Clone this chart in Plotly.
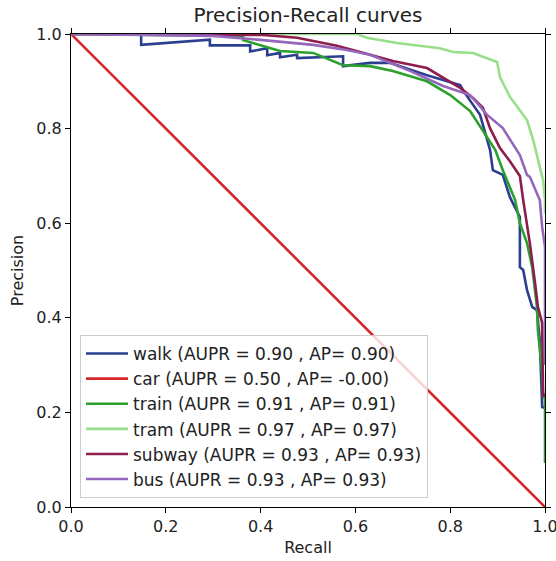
import plotly.graph_objects as go

names = ["walk", "car", "train", "tram", "subway", "bus"]
aupr = ["0.90", "0.50", "0.91", "0.97", "0.93", "0.93"]
ap = ["0.90", "-0.00", "0.91", "0.97", "0.93", "0.93"]
colors = ["#2b3f91", "#d62728", "#2ca02c", "#98df8a", "#8c1d4d", "#9467bd"]

walk_recall = [0.0, 0.148, 0.148, 0.293, 0.293, 0.378, 0.378, 0.414, 0.414, 0.441, 0.441, 0.477, 0.477,
               0.574, 0.574, 0.631, 0.673, 0.751, 0.821, 0.831, 0.863, 0.878, 0.884, 0.890, 0.911, 0.926,
               0.947, 0.947, 0.954, 0.962, 0.964, 0.973, 0.983, 0.989, 0.994, 1.0]
walk_precision = [1.0, 1.0, 0.977, 0.988, 0.976, 0.976, 0.963, 0.970, 0.955, 0.960, 0.951, 0.956, 0.949,
                  0.953, 0.932, 0.939, 0.939, 0.913, 0.892, 0.875, 0.829, 0.780, 0.755, 0.712, 0.702, 0.655,
                  0.613, 0.507, 0.501, 0.459, 0.452, 0.423, 0.416, 0.353, 0.211, 0.21]

car_recall = [0.0, 1.0]
car_precision = [1.0, 0.0]

train_recall = [0.0, 0.245, 0.363, 0.363, 0.441, 0.511, 0.574, 0.631, 0.679, 0.751, 0.800, 0.842, 0.878,
                0.895, 0.911, 0.920, 0.937, 0.947, 0.962, 0.973, 0.983, 0.985, 0.994, 0.996, 1.0, 1.0]
train_precision = [1.0, 0.998, 0.996, 0.987, 0.964, 0.960, 0.934, 0.932, 0.922, 0.900, 0.871, 0.837, 0.780,
                   0.755, 0.712, 0.691, 0.649, 0.600, 0.558, 0.507, 0.423, 0.374, 0.283, 0.233, 0.23, 0.093]

tram_recall = [0.0, 0.603, 0.624, 0.688, 0.778, 0.806, 0.848, 0.878, 0.899, 0.905, 0.926, 0.947, 0.962,
               0.975, 0.985, 0.996, 1.0, 1.0]
tram_precision = [1.0, 1.0, 0.992, 0.981, 0.970, 0.962, 0.960, 0.949, 0.941, 0.909, 0.867, 0.839, 0.818,
                  0.776, 0.734, 0.691, 0.65, 0.62]

subway_recall = [0.0, 0.405, 0.477, 0.561, 0.610, 0.679, 0.751, 0.821, 0.848, 0.869, 0.884, 0.905, 0.926,
                 0.947, 0.954, 0.968, 0.979, 0.985, 0.994, 0.996, 1.0]
subway_precision = [1.0, 0.998, 0.992, 0.975, 0.962, 0.943, 0.928, 0.886, 0.865, 0.844, 0.801, 0.759, 0.731,
                    0.700, 0.649, 0.558, 0.474, 0.423, 0.389, 0.233, 0.24]

bus_recall = [0.0, 0.300, 0.405, 0.511, 0.582, 0.631, 0.715, 0.785, 0.842, 0.878, 0.911, 0.947, 0.962,
              0.968, 0.989, 0.994, 1.0, 1.0]
bus_precision = [1.0, 0.996, 0.987, 0.977, 0.966, 0.956, 0.922, 0.890, 0.871, 0.829, 0.801, 0.744, 0.702,
                 0.698, 0.649, 0.592, 0.55, 0.30]

recalls = [walk_recall, car_recall, train_recall, tram_recall, subway_recall, bus_recall]
precisions = [walk_precision, car_precision, train_precision, tram_precision, subway_precision, bus_precision]

x_ticks = [0.0, 0.2, 0.4, 0.6, 0.8, 1.0]
y_ticks = [0.0, 0.2, 0.4, 0.6, 0.8, 1.0]

fig = go.Figure()
for n, a, p, c, r, pr in zip(names, aupr, ap, colors, recalls, precisions):
    fig.add_trace(go.Scatter(
        x=r, y=pr, mode="lines",
        line=dict(color=c, width=2.6),
        name=f"{n} (AUPR = {a} , AP= {p})",
    ))

axis_common = dict(
    showgrid=False, zeroline=False, showline=True, linecolor="black", linewidth=1.2,
    mirror="ticks", ticks="outside", ticklen=5, tickwidth=1.2, tickcolor="black",
    tickfont=dict(size=16, color="#222"), tickformat=".1f", automargin=False,
    ticklabeloverflow="allow",
)

fig.update_layout(
    width=556, height=561,
    margin=dict(l=71, r=11, t=34, b=54),
    paper_bgcolor="white", plot_bgcolor="white",
    font=dict(family="DejaVu Sans", size=16, color="#222"),
    title=dict(text="Precision-Recall curves", x=0.5, xanchor="center", xref="paper",
               y=(561 - 15) / 561, yref="container", yanchor="middle",
               font=dict(size=20, color="#222")),
    xaxis=dict(range=[0, 1], tickvals=x_ticks, title=dict(text="Recall", font=dict(size=16), standoff=6),
               **axis_common),
    yaxis=dict(range=[0, 1], tickvals=y_ticks, title=dict(text="Precision", font=dict(size=16), standoff=8),
               **axis_common),
    legend=dict(x=0.019, y=0.019, xanchor="left", yanchor="bottom",
                bgcolor="rgba(255,255,255,0.8)", bordercolor="#cccccc", borderwidth=1,
                font=dict(size=17, color="#222"), tracegroupgap=0, itemwidth=42),
)

fig.write_html(
    "out.html",
    config={"displayModeBar": False},
    post_script="document.body.style.margin='0';document.body.style.overflow='hidden';",
)
